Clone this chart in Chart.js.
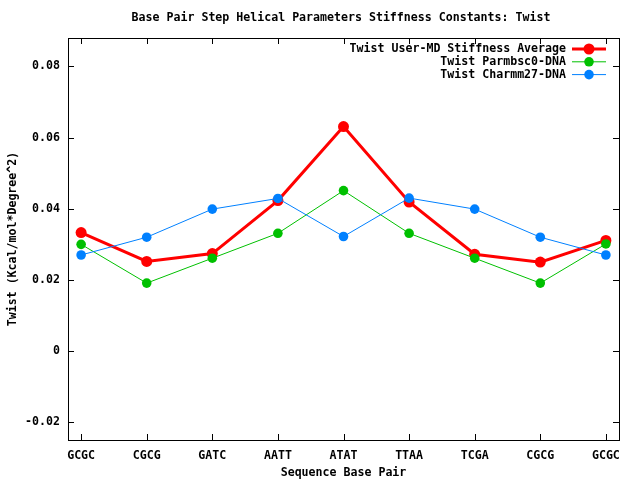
<!DOCTYPE html>
<html>
<head>
<meta charset="utf-8">
<script src="https://cdn.jsdelivr.net/npm/chart.js@4.4.0/dist/chart.umd.min.js"></script>
<style>
html,body{margin:0;padding:0;background:#fff;}
#wrap{width:640px;height:480px;}
</style>
</head>
<body>
<div id="wrap"><canvas id="twistChart" width="640" height="480"></canvas></div>
<script>
// sequence steps along x
var steps = ["GCGC", "CGCG", "GATC", "AATT", "ATAT", "TTAA", "TCGA", "CGCG", "GCGC"];
// stiffness values
var userMD   = [0.0333, 0.0252, 0.0274, 0.0423, 0.0631, 0.0419, 0.0272, 0.0250, 0.0311];
var parmbsc0 = [0.0300, 0.0191, 0.0261, 0.0331, 0.0451, 0.0331, 0.0261, 0.0191, 0.0301];
var charmm27 = [0.0270, 0.0320, 0.0399, 0.0429, 0.0322, 0.0430, 0.0399, 0.0320, 0.0270];
var yTicks = [-0.02, 0, 0.02, 0.04, 0.06, 0.08];

var FONT = "'DejaVu Sans Mono', 'Liberation Mono', monospace";

function pts(arr) {
    return arr.map(function (v, i) { return {x: i, y: v}; });
}

// gnuplot style frame: border + inward ticks on all four sides, plus title and key
var gnuFrame = {
    id: 'gnuFrame',
    afterDraw: function (chart) {
        var c = chart.ctx, a = chart.chartArea;
        var xs = chart.scales.x, ys = chart.scales.y;
        c.save();
        c.strokeStyle = '#000';
        c.lineWidth = 1;
        c.strokeRect(a.left + 0.5, a.top + 0.5, a.right - a.left, a.bottom - a.top);
        c.beginPath();
        steps.forEach(function (s, i) {
            var px = Math.round(xs.getPixelForValue(i)) + 0.5;
            c.moveTo(px, a.bottom); c.lineTo(px, a.bottom - 6);
            c.moveTo(px, a.top); c.lineTo(px, a.top + 6);
        });
        yTicks.forEach(function (v) {
            var py = Math.round(ys.getPixelForValue(v)) + 0.5;
            c.moveTo(a.left, py); c.lineTo(a.left + 6, py);
            c.moveTo(a.right, py); c.lineTo(a.right - 6, py);
        });
        c.stroke();

        // title
        c.fillStyle = '#000';
        c.font = 'bold 11.6px ' + FONT;
        c.textAlign = 'center';
        c.textBaseline = 'middle';
        c.fillText('Base Pair Step Helical Parameters Stiffness Constants: Twist', 341, 18);

        // key
        var rows = [
            {t: 'Twist User-MD Stiffness Average', col: '#ff0000', lw: 3, r: 5.5},
            {t: 'Twist Parmbsc0-DNA', col: '#00c000', lw: 1, r: 4.8},
            {t: 'Twist Charmm27-DNA', col: '#0080ff', lw: 1, r: 4.8}
        ];
        rows.forEach(function (row, k) {
            var y = 49 + k * 12.8;
            c.fillStyle = '#000';
            c.textAlign = 'right';
            c.fillText(row.t, 566, y);
            c.strokeStyle = row.col;
            c.lineWidth = row.lw;
            c.beginPath();
            c.moveTo(572, y); c.lineTo(606, y);
            c.stroke();
            c.fillStyle = row.col;
            c.beginPath();
            c.arc(589, y, row.r, 0, Math.PI * 2);
            c.fill();
        });
        c.restore();
    }
};

var ctx = document.getElementById('twistChart').getContext('2d');
var chart = new Chart(ctx, {
    type: 'line',
    data: {
        datasets: [{
            label: 'Twist Charmm27-DNA',
            data: pts(charmm27),
            borderColor: '#0080ff',
            backgroundColor: '#0080ff',
            borderWidth: 1,
            pointRadius: 4.8,
            pointBorderWidth: 0,
            tension: 0
        }, {
            label: 'Twist Parmbsc0-DNA',
            data: pts(parmbsc0),
            borderColor: '#00c000',
            backgroundColor: '#00c000',
            borderWidth: 1,
            pointRadius: 4.8,
            pointBorderWidth: 0,
            tension: 0
        }, {
            label: 'Twist User-MD Stiffness Average',
            data: pts(userMD),
            borderColor: '#ff0000',
            backgroundColor: '#ff0000',
            borderWidth: 3,
            pointRadius: 5.5,
            pointBorderWidth: 0,
            tension: 0
        }]
    },
    options: {
        responsive: false,
        animation: false,
        devicePixelRatio: 1,
        layout: {padding: {top: 38, right: 21, left: 0, bottom: 0}},
        plugins: {
            legend: {display: false},
            title: {display: false},
            tooltip: {enabled: false}
        },
        scales: {
            x: {
                type: 'linear',
                min: -0.2,
                max: 8.2,
                grid: {display: false, drawTicks: false},
                border: {display: false},
                afterBuildTicks: function (s) {
                    s.ticks = steps.map(function (n, i) { return {value: i}; });
                },
                afterFit: function (s) { s.height = 40; },
                ticks: {
                    autoSkip: false,
                    maxRotation: 0,
                    padding: 9,
                    color: '#000',
                    font: {family: FONT, size: 11.6, weight: 'bold'},
                    callback: function (v) { return steps[v]; }
                },
                title: {
                    display: true,
                    text: 'Sequence Base Pair',
                    color: '#000',
                    padding: {top: 4, bottom: 0},
                    font: {family: FONT, size: 11.6, weight: 'bold'}
                }
            },
            y: {
                min: -0.025,
                max: 0.088,
                grid: {display: false, drawTicks: false},
                border: {display: false},
                afterBuildTicks: function (s) {
                    s.ticks = yTicks.map(function (v) { return {value: v}; });
                },
                afterFit: function (s) { s.width = 68; },
                ticks: {
                    padding: 8,
                    color: '#000',
                    font: {family: FONT, size: 11.6, weight: 'bold'},
                    callback: function (v) { return v === 0 ? '0' : v.toFixed(2); }
                },
                title: {
                    display: true,
                    text: 'Twist (Kcal/mol*Degree^2)',
                    color: '#000',
                    padding: {top: 6, bottom: 0},
                    font: {family: FONT, size: 11.6, weight: 'bold'}
                }
            }
        }
    },
    plugins: [gnuFrame]
});
</script>
</body>
</html>
